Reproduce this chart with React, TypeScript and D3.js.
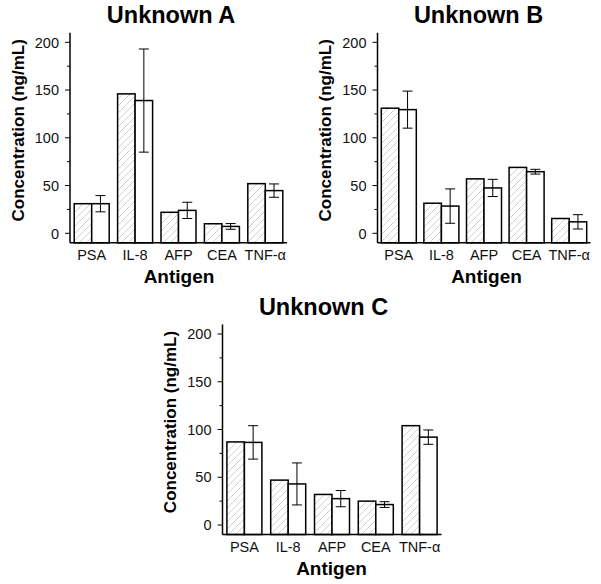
import React from "react";
import * as d3 from "d3";

const categories = ["PSA", "IL-8", "AFP", "CEA", "TNF-\u03b1"];
const yTicksMajor = [0, 50, 100, 150, 200];
const yTicksMinor = [25, 75, 125, 175];

const titles = ["Unknown A", "Unknown B", "Unknown C"];
// hatched (expected) values
const expectedA = [31, 146, 22, 10, 52];
const expectedB = [131, 31.5, 57, 69, 15.5];
const expectedC = [87, 47, 32, 25, 104];
// measured means
const measuredA = [31, 139, 24, 7.2, 44.7];
const measuredB = [129.5, 28.5, 47.5, 64.5, 12];
const measuredC = [86.5, 43, 27.6, 21.4, 92];
// error (±)
const errorA = [8.5, 54, 8.5, 3, 7];
const errorB = [19.4, 18, 9, 2.5, 7.5];
const errorC = [17.5, 22, 8.5, 3, 7.5];

const layouts = [
  { left: 70, width: 217, zeroY: 233.3 },
  { left: 377.5, width: 213, zeroY: 233.3 },
  { left: 222.5, width: 219, zeroY: 525 },
];

const FONT = "'Liberation Sans', Arial, Helvetica, sans-serif";

function Panel({ idx }: { idx: number }) {
  const L = layouts[idx];
  const expected = [expectedA, expectedB, expectedC][idx];
  const measured = [measuredA, measuredB, measuredC][idx];
  const errs = [errorA, errorB, errorC][idx];
  const pxPerUnit = 0.955;
  const y = d3
    .scaleLinear()
    .domain([-10, 210])
    .range([L.zeroY + 10 * pxPerUnit, L.zeroY - 210 * pxPerUnit]);
  const x = d3
    .scaleBand<string>()
    .domain(categories)
    .range([L.left, L.left + L.width])
    .padding(0);
  const barW = 17.5;
  const bottom = y(-10);
  const top = y(210);
  return (
    <g>
      <text
        x={L.left + 101}
        y={L.zeroY - 210}
        textAnchor="middle"
        fontFamily={FONT}
        fontWeight="bold"
        fontSize={23.5}
      >
        {titles[idx]}
      </text>
      <text
        transform={`translate(${L.left - 52},${L.zeroY - 103}) rotate(-90)`}
        textAnchor="middle"
        dominantBaseline="central"
        fontFamily={FONT}
        fontWeight="bold"
        fontSize={17}
      >
        Concentration (ng/mL)
      </text>
      <text
        x={L.left + 109}
        y={L.zeroY + 50}
        textAnchor="middle"
        fontFamily={FONT}
        fontWeight="bold"
        fontSize={19}
      >
        Antigen
      </text>
      {categories.map((c, i) => {
        const cx = (x(c) as number) + x.bandwidth() / 2;
        const e = expected[i];
        const m = measured[i];
        const er = errs[i];
        return (
          <g key={c}>
            <rect
              x={cx - barW}
              y={y(e)}
              width={barW}
              height={bottom - y(e)}
              fill="url(#hatch)"
              stroke="#000"
              strokeWidth={1.5}
            />
            <rect
              x={cx}
              y={y(m)}
              width={barW}
              height={bottom - y(m)}
              fill="#fff"
              stroke="#000"
              strokeWidth={1.5}
            />
            <line x1={cx + barW / 2} x2={cx + barW / 2} y1={y(m - er)} y2={y(m + er)} stroke="#000" strokeWidth={1} />
            <line x1={cx + barW / 2 - 5} x2={cx + barW / 2 + 5} y1={y(m + er)} y2={y(m + er)} stroke="#000" strokeWidth={1} />
            <line x1={cx + barW / 2 - 5} x2={cx + barW / 2 + 5} y1={y(m - er)} y2={y(m - er)} stroke="#000" strokeWidth={1} />
            <text
              x={cx}
              y={L.zeroY + 27}
              textAnchor="middle"
              fontFamily={FONT}
              fontSize={14.5}
              fill="#111"
            >
              {c}
            </text>
          </g>
        );
      })}
      <line x1={L.left} x2={L.left} y1={top} y2={bottom} stroke="#000" strokeWidth={1.5} />
      <line x1={L.left} x2={L.left + L.width} y1={bottom} y2={bottom} stroke="#000" strokeWidth={1.5} />
      {yTicksMajor.map((t) => (
        <g key={t}>
          <line x1={L.left - 5} x2={L.left} y1={y(t)} y2={y(t)} stroke="#000" strokeWidth={1} />
          <text
            x={L.left - 11}
            y={y(t)}
            dy="0.36em"
            textAnchor="end"
            fontFamily={FONT}
            fontSize={14.5}
            fill="#111"
          >
            {t}
          </text>
        </g>
      ))}
      {yTicksMinor.map((t) => (
        <line key={t} x1={L.left - 3} x2={L.left} y1={y(t)} y2={y(t)} stroke="#000" strokeWidth={1} />
      ))}
    </g>
  );
}

export default function App() {
  return (
    <svg width={601} height={584} style={{ display: "block", position: "absolute", left: 0, top: 0 }}>
      <defs>
        <pattern id="hatch" patternUnits="userSpaceOnUse" width={7} height={7}>
          <rect width={7} height={7} fill="#fff" />
          <path d="M-1,1 L1,-1 M0,7 L7,0 M6,8 L8,6" stroke="#c4c4c4" strokeWidth={0.8} />
        </pattern>
      </defs>
      <rect width={601} height={584} fill="#fff" />
      <Panel idx={0} />
      <Panel idx={1} />
      <Panel idx={2} />
    </svg>
  );
}
